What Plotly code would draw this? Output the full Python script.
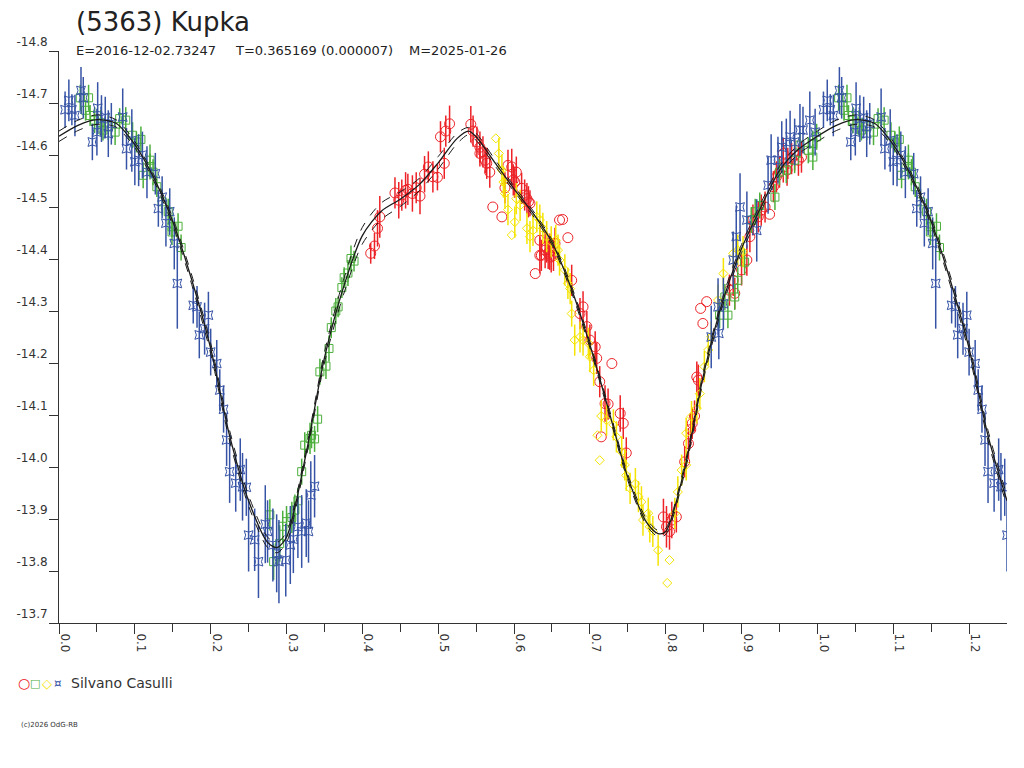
import plotly.graph_objects as go

# ---------------- data ----------------
title_text = "(5363) Kupka"
info_epoch = "E=2016-12-02.73247"
info_period = "T=0.365169 (0.000007)"
info_model = "M=2025-01-26"
observer = "Silvano Casulli"
copyright_text = "(c)2026 OdG-RB"

x_tick_vals = [0.0, 0.1, 0.2, 0.3, 0.4, 0.5, 0.6, 0.7, 0.8, 0.9, 1.0, 1.1, 1.2]
x_tick_text = ["0.0", "0.1", "0.2", "0.3", "0.4", "0.5", "0.6", "0.7", "0.8", "0.9", "1.0", "1.1", "1.2"]
x_minor_vals = [0.05, 0.15, 0.25, 0.35, 0.45, 0.55, 0.65, 0.75, 0.85, 0.95, 1.05, 1.15]
y_tick_vals = [-14.8, -14.7, -14.6, -14.5, -14.4, -14.3, -14.2, -14.1, -14.0, -13.9, -13.8, -13.7]
y_tick_text = ["-14.8", "-14.7", "-14.6", "-14.5", "-14.4", "-14.3", "-14.2", "-14.1", "-14.0", "-13.9", "-13.8", "-13.7"]

# fitted light curve (centre) and its two dashed envelopes
fit_phase = [0.000, 0.025, 0.050, 0.075, 0.100, 0.125, 0.150, 0.175, 0.200, 0.225, 0.250, 0.275, 0.2875,
             0.300, 0.325, 0.350, 0.375, 0.400, 0.425, 0.450, 0.475, 0.500, 0.525, 0.540, 0.550, 0.575,
             0.600, 0.625, 0.650, 0.675, 0.700, 0.725, 0.750, 0.775, 0.790, 0.800, 0.825, 0.850, 0.875,
             0.900, 0.925, 0.950, 0.975, 1.000, 1.025, 1.050, 1.075, 1.100, 1.125, 1.150, 1.175, 1.200,
             1.225, 1.250]
fit_mag = [-14.636, -14.657, -14.668, -14.661, -14.620, -14.556, -14.472, -14.360, -14.228, -14.060,
           -13.935, -13.855, -13.845, -13.865, -14.020, -14.210, -14.345, -14.445, -14.492, -14.515,
           -14.543, -14.585, -14.632, -14.646, -14.635, -14.585, -14.535, -14.488, -14.432, -14.345,
           -14.235, -14.108, -13.980, -13.893, -13.872, -13.876, -13.997, -14.178, -14.318, -14.420,
           -14.498, -14.570, -14.611, -14.636, -14.657, -14.668, -14.661, -14.620, -14.556, -14.472,
           -14.360, -14.228, -14.060, -13.935]
fit_upper = [-14.646, -14.667, -14.677, -14.668, -14.626, -14.562, -14.479, -14.369, -14.238, -14.070,
             -13.945, -13.865, -13.855, -13.875, -14.028, -14.220, -14.359, -14.461, -14.508, -14.529,
             -14.555, -14.597, -14.642, -14.653, -14.642, -14.591, -14.540, -14.493, -14.437, -14.351,
             -14.241, -14.114, -13.986, -13.899, -13.878, -13.882, -14.005, -14.186, -14.326, -14.428,
             -14.506, -14.578, -14.620, -14.646, -14.667, -14.677, -14.668, -14.626, -14.562, -14.479,
             -14.369, -14.238, -14.070, -13.945]
fit_lower = [-14.626, -14.647, -14.659, -14.654, -14.614, -14.550, -14.465, -14.351, -14.218, -14.050,
             -13.925, -13.845, -13.835, -13.855, -14.012, -14.200, -14.331, -14.429, -14.476, -14.501,
             -14.531, -14.573, -14.622, -14.639, -14.628, -14.579, -14.530, -14.483, -14.427, -14.339,
             -14.229, -14.102, -13.974, -13.887, -13.866, -13.870, -13.989, -14.170, -14.310, -14.412,
             -14.490, -14.562, -14.602, -14.626, -14.647, -14.659, -14.654, -14.614, -14.550, -14.465,
             -14.351, -14.218, -14.050, -13.925]

# red circles
red_phase = [0.411, 0.416, 0.420, 0.423, 0.443, 0.448, 0.452, 0.457, 0.460, 0.466, 0.471, 0.476, 0.482,
             0.487, 0.493, 0.499, 0.503, 0.508, 0.510, 0.515, 0.543, 0.546, 0.551, 0.555, 0.555, 0.559,
             0.562, 0.564, 0.568, 0.572, 0.584, 0.588, 0.592, 0.597, 0.599, 0.601, 0.603, 0.610, 0.614,
             0.617, 0.619, 0.621, 0.628, 0.634, 0.634, 0.636, 0.641, 0.643, 0.645, 0.647, 0.649, 0.652,
             0.654, 0.660, 0.664, 0.671, 0.676, 0.687, 0.691, 0.696, 0.700, 0.707, 0.709, 0.713, 0.715,
             0.720, 0.724, 0.729, 0.740, 0.744, 0.748, 0.797, 0.801, 0.805, 0.808, 0.814, 0.825, 0.830,
             0.833, 0.835, 0.838, 0.841, 0.843, 0.846, 0.849, 0.854, 0.884, 0.889, 0.891, 0.900, 0.907,
             0.911, 0.915, 0.922, 0.926, 0.931, 0.937, 0.942, 0.946, 0.950, 0.955, 0.955, 0.960, 0.961,
             0.966, 0.970, 0.975, 0.979]
red_mag = [-14.411, -14.425, -14.459, -14.481, -14.527, -14.513, -14.523, -14.532, -14.534, -14.526,
           -14.537, -14.521, -14.563, -14.577, -14.558, -14.557, -14.635, -14.584, -14.646, -14.660,
           -14.659, -14.646, -14.625, -14.615, -14.603, -14.606, -14.590, -14.584, -14.567, -14.500,
           -14.481, -14.537, -14.580, -14.577, -14.552, -14.548, -14.567, -14.536, -14.523, -14.516,
           -14.510, -14.507, -14.372, -14.407, -14.436, -14.407, -14.417, -14.423, -14.411, -14.414,
           -14.404, -14.407, -14.430, -14.475, -14.476, -14.441, -14.359, -14.295, -14.308, -14.270,
           -14.244, -14.231, -14.209, -14.164, -14.058, -14.122, -14.121, -14.199, -14.103, -14.084,
           -14.027, -13.904, -13.885, -13.876, -13.898, -13.904, -14.010, -14.045, -14.072, -14.084,
           -14.098, -14.173, -14.167, -14.305, -14.276, -14.318, -14.340, -14.359, -14.334, -14.379,
           -14.398, -14.443, -14.475, -14.481, -14.494, -14.500, -14.486, -14.539, -14.558, -14.567,
           -14.577, -14.603, -14.571, -14.584, -14.593, -14.600, -14.590, -14.596]
red_err = [0.020, 0.025, 0.035, 0.040, 0.030, 0.035, 0.030, 0.035, 0.030, 0.035, 0.030, 0.035, 0.035,
           0.030, 0.030, 0.025, 0.030, 0.030, 0.030, 0.035, 0.035, 0.030, 0.030, 0.030, 0.025, 0.030,
           0.025, 0.030, 0.030, 0.000, 0.000, 0.030, 0.030, 0.035, 0.030, 0.030, 0.030, 0.030, 0.030,
           0.030, 0.030, 0.025, 0.000, 0.035, 0.030, 0.030, 0.035, 0.030, 0.030, 0.035, 0.030, 0.030,
           0.030, 0.000, 0.000, 0.000, 0.030, 0.030, 0.030, 0.030, 0.030, 0.030, 0.030, 0.030, 0.000,
           0.035, 0.030, 0.000, 0.035, 0.030, 0.030, 0.035, 0.040, 0.035, 0.035, 0.030, 0.030, 0.030,
           0.030, 0.030, 0.030, 0.030, 0.030, 0.000, 0.000, 0.000, 0.030, 0.030, 0.030, 0.030, 0.030,
           0.030, 0.030, 0.030, 0.030, 0.030, 0.000, 0.030, 0.030, 0.030, 0.030, 0.030, 0.030, 0.030,
           0.030, 0.030, 0.030, 0.030]

# green squares
green_phase = [0.028, 0.035, 0.039, 0.041, 0.047, 0.055, 0.058, 0.065, 0.074, 0.080, 0.088, 0.097, 0.102,
               0.108, 0.111, 0.120, 0.120, 0.124, 0.129, 0.136, 0.144, 0.149, 0.149, 0.157, 0.161, 0.278,
               0.283, 0.291, 0.295, 0.300, 0.307, 0.311, 0.315, 0.320, 0.324, 0.331, 0.333, 0.337, 0.341,
               0.344, 0.352, 0.356, 0.359, 0.365, 0.368, 0.373, 0.376, 0.381, 0.385, 0.389, 0.871, 0.878,
               0.882, 0.891, 0.895, 0.904, 0.913, 0.918, 0.924, 0.944, 0.950, 0.959, 0.970, 0.977, 0.988,
               0.994, 0.994, 0.999]
green_mag = [-14.710, -14.686, -14.710, -14.676, -14.667, -14.662, -14.648, -14.654, -14.644, -14.670,
             -14.667, -14.638, -14.625, -14.630, -14.561, -14.590, -14.578, -14.567, -14.539, -14.510,
             -14.491, -14.462, -14.452, -14.463, -14.422, -13.908, -13.818, -13.853, -13.886, -13.895,
             -13.903, -13.917, -13.935, -13.991, -14.042, -14.055, -14.061, -14.054, -14.092, -14.183,
             -14.194, -14.228, -14.268, -14.300, -14.308, -14.345, -14.364, -14.373, -14.401, -14.396,
             -14.292, -14.327, -14.292, -14.327, -14.359, -14.394, -14.475, -14.491, -14.503, -14.519,
             -14.567, -14.571, -14.590, -14.619, -14.609, -14.596, -14.622, -14.635]
green_err = [0.025, 0.020, 0.025, 0.020, 0.025, 0.025, 0.020, 0.025, 0.025, 0.020, 0.025, 0.025, 0.020,
             0.025, 0.025, 0.030, 0.025, 0.025, 0.020, 0.025, 0.025, 0.020, 0.025, 0.025, 0.025, 0.030,
             0.035, 0.035, 0.030, 0.030, 0.030, 0.030, 0.025, 0.025, 0.025, 0.030, 0.025, 0.025, 0.025,
             0.025, 0.025, 0.025, 0.020, 0.025, 0.020, 0.020, 0.020, 0.025, 0.025, 0.020, 0.025, 0.025,
             0.025, 0.025, 0.025, 0.025, 0.025, 0.025, 0.025, 0.025, 0.025, 0.025, 0.025, 0.025, 0.025,
             0.025, 0.025, 0.025]

# yellow diamonds
yellow_phase = [0.576, 0.580, 0.584, 0.586, 0.588, 0.592, 0.597, 0.601, 0.603, 0.608, 0.617, 0.621, 0.625,
                0.630, 0.634, 0.638, 0.643, 0.649, 0.655, 0.658, 0.660, 0.667, 0.671, 0.674, 0.676, 0.680,
                0.687, 0.691, 0.698, 0.700, 0.705, 0.710, 0.713, 0.715, 0.722, 0.731, 0.735, 0.742, 0.746,
                0.748, 0.753, 0.760, 0.764, 0.768, 0.770, 0.777, 0.779, 0.783, 0.790, 0.802, 0.805, 0.812,
                0.816, 0.821, 0.827, 0.827, 0.834, 0.841, 0.845, 0.851, 0.856, 0.860, 0.869, 0.876, 0.889,
                0.895, 0.902]
yellow_mag = [-14.632, -14.603, -14.571, -14.548, -14.526, -14.495, -14.446, -14.471, -14.516, -14.503,
              -14.459, -14.443, -14.455, -14.481, -14.475, -14.459, -14.443, -14.433, -14.436, -14.417,
              -14.398, -14.379, -14.353, -14.343, -14.295, -14.244, -14.250, -14.244, -14.238, -14.212,
              -14.186, -14.061, -14.013, -14.098, -14.090, -14.081, -14.058, -14.029, -14.004, -13.984,
              -13.959, -13.968, -13.943, -13.933, -13.898, -13.911, -13.885, -13.876, -13.840, -13.777,
              -13.821, -13.911, -13.952, -13.994, -14.004, -14.065, -14.097, -14.113, -14.141, -14.193,
              -14.225, -14.250, -14.321, -14.372, -14.411, -14.417, -14.414]
yellow_err = [0.000, 0.030, 0.030, 0.030, 0.030, 0.030, 0.000, 0.030, 0.030, 0.030, 0.030, 0.030, 0.030,
              0.030, 0.030, 0.030, 0.030, 0.030, 0.030, 0.030, 0.030, 0.030, 0.030, 0.030, 0.025, 0.030,
              0.030, 0.030, 0.030, 0.030, 0.030, 0.000, 0.000, 0.030, 0.030, 0.030, 0.030, 0.030, 0.030,
              0.030, 0.030, 0.030, 0.030, 0.030, 0.030, 0.030, 0.030, 0.030, 0.030, 0.000, 0.000, 0.030,
              0.030, 0.030, 0.030, 0.030, 0.030, 0.030, 0.030, 0.030, 0.030, 0.030, 0.030, 0.030, 0.030,
              0.030, 0.030]

# blue star-squares
blue_phase = [0.008, 0.013, 0.017, 0.021, 0.029, 0.032, 0.044, 0.050, 0.051, 0.056, 0.061, 0.065, 0.069,
              0.084, 0.089, 0.096, 0.100, 0.105, 0.110, 0.116, 0.127, 0.131, 0.136, 0.141, 0.146, 0.152,
              0.156, 0.177, 0.182, 0.185, 0.192, 0.197, 0.200, 0.208, 0.212, 0.217, 0.221, 0.225, 0.233,
              0.239, 0.242, 0.247, 0.250, 0.258, 0.263, 0.272, 0.275, 0.282, 0.287, 0.290, 0.299, 0.305,
              0.309, 0.315, 0.320, 0.326, 0.329, 0.332, 0.337, 0.860, 0.869, 0.870, 0.876, 0.889, 0.893,
              0.898, 0.907, 0.920, 0.935, 0.939, 0.948, 0.953, 0.959, 0.964, 0.970, 0.977, 0.981, 0.990,
              0.997]
blue_mag = [-14.687, -14.705, -14.687, -14.676, -14.724, -14.710, -14.625, -14.644, -14.690, -14.670,
            -14.672, -14.641, -14.660, -14.673, -14.612, -14.628, -14.587, -14.590, -14.600, -14.567,
            -14.564, -14.497, -14.519, -14.469, -14.491, -14.430, -14.353, -14.311, -14.308, -14.254,
            -14.266, -14.292, -14.221, -14.199, -14.148, -14.111, -14.052, -13.991, -13.969, -13.995,
            -13.962, -13.961, -13.869, -13.860, -13.818, -13.890, -13.876, -13.850, -13.834, -13.818,
            -13.821, -13.850, -13.861, -13.885, -13.876, -13.892, -13.876, -13.946, -13.963, -14.250,
            -14.308, -14.257, -14.314, -14.398, -14.443, -14.500, -14.475, -14.455, -14.542, -14.590,
            -14.590, -14.615, -14.625, -14.635, -14.625, -14.648, -14.648, -14.667, -14.644]
blue_err = [0.035, 0.040, 0.030, 0.040, 0.045, 0.040, 0.035, 0.045, 0.050, 0.045, 0.040, 0.045, 0.040,
            0.055, 0.040, 0.060, 0.045, 0.050, 0.045, 0.050, 0.040, 0.035, 0.040, 0.045, 0.045, 0.050,
            0.087, 0.035, 0.040, 0.045, 0.050, 0.045, 0.045, 0.045, 0.040, 0.045, 0.050, 0.060, 0.055,
            0.060, 0.065, 0.055, 0.070, 0.060, 0.070, 0.075, 0.060, 0.070, 0.075, 0.080, 0.070, 0.075,
            0.065, 0.060, 0.070, 0.065, 0.060, 0.065, 0.060, 0.060, 0.055, 0.050, 0.050, 0.055, 0.060,
            0.065, 0.055, 0.060, 0.055, 0.050, 0.045, 0.050, 0.045, 0.050, 0.045, 0.050, 0.045, 0.055,
            0.045]

PHASE_MAX = 1.25


def folded(ph, mg, er):
    """Show phases 0..1 and repeat the start of the cycle after phase 1 (up to PHASE_MAX)."""
    xs, ys, es = list(ph), list(mg), list(er)
    for p, m, e in zip(ph, mg, er):
        if p + 1.0 <= PHASE_MAX:
            xs.append(p + 1.0)
            ys.append(m)
            es.append(e)
    return xs, ys, es


# ---------------- figure ----------------
RED = "#ec2227"
GREEN = "#4caf3c"
YELLOW = "#f4e400"
BLUE = "#3653a6"
INK = "#333333"
FONT = "DejaVu Sans"

fig = go.Figure()

series = [
    (red_phase, red_mag, red_err, RED, "circle-open", 10),
    (green_phase, green_mag, green_err, GREEN, "square-open", 8),
    (yellow_phase, yellow_mag, yellow_err, YELLOW, "diamond-open", 7),
    (blue_phase, blue_mag, blue_err, BLUE, "star-square-open", 8),
]
for ph, mg, er, col, sym, sz in series:
    xs, ys, es = folded(ph, mg, er)
    fig.add_trace(go.Scatter(
        x=xs, y=ys, mode="markers",
        marker=dict(symbol=sym, size=sz, color=col, line=dict(color=col, width=1)),
        error_y=dict(type="data", array=es, visible=True, color=col, thickness=1.5, width=0),
        showlegend=False, hoverinfo="skip",
    ))

for yy, dash, w in [(fit_upper, "dash", 1), (fit_lower, "dash", 1), (fit_mag, "solid", 1.3)]:
    fig.add_trace(go.Scatter(
        x=fit_phase, y=yy, mode="lines",
        line=dict(color="#1a1a1a", width=w, dash=dash, shape="spline", smoothing=0.8),
        showlegend=False, hoverinfo="skip",
    ))

W, H = 1024, 768
ML, MR, MT, MB = 59, 17, 51, 145
PW, PH = W - ML - MR, H - MT - MB


def px(xp):
    return (xp - ML) / PW


def py(yp):
    return (H - MB - yp) / PH


annotations = [
    dict(text=title_text, x=px(74), y=py(22), xanchor="left", yanchor="middle",
         font=dict(family=FONT, size=26, color="#222222")),
    dict(text=info_epoch, x=px(74), y=py(50), xanchor="left", yanchor="middle",
         font=dict(family=FONT, size=13, color="#222222")),
    dict(text=info_period, x=px(233), y=py(50), xanchor="left", yanchor="middle",
         font=dict(family=FONT, size=13, color="#222222")),
    dict(text=info_model, x=px(407), y=py(50), xanchor="left", yanchor="middle",
         font=dict(family=FONT, size=13, color="#222222")),
    dict(text="<span style='color:%s'>○</span>" % RED, x=px(24), y=py(683), xanchor="center",
         yanchor="middle", font=dict(family=FONT, size=14, color=RED)),
    dict(text="<span style='color:%s'>□</span>" % GREEN, x=px(35), y=py(683), xanchor="center",
         yanchor="middle", font=dict(family=FONT, size=11, color=GREEN)),
    dict(text="<span style='color:%s'>◇</span>" % YELLOW, x=px(47), y=py(683), xanchor="center",
         yanchor="middle", font=dict(family=FONT, size=13, color=YELLOW)),
    dict(text="<span style='color:%s'>¤</span>" % BLUE, x=px(58), y=py(683), xanchor="center",
         yanchor="middle", font=dict(family=FONT, size=12, color=BLUE)),
    dict(text=observer, x=px(69), y=py(683), xanchor="left", yanchor="middle",
         font=dict(family=FONT, size=14, color=INK)),
    dict(text=copyright_text, x=px(19), y=py(725), xanchor="left", yanchor="middle",
         font=dict(family=FONT, size=7, color=INK)),
]
for a in annotations:
    a.update(xref="paper", yref="paper", showarrow=False)

fig.update_layout(
    width=W, height=H,
    margin=dict(l=ML, r=MR, t=MT, b=MB, pad=0),
    paper_bgcolor="white", plot_bgcolor="white",
    font=dict(family=FONT, size=12, color=INK),
    annotations=annotations,
    xaxis=dict(
        range=[0, PHASE_MAX], showgrid=False, zeroline=False,
        showline=True, linecolor=INK, linewidth=1,
        tickmode="array", tickvals=x_tick_vals, ticktext=x_tick_text,
        ticks="outside", ticklen=10, tickcolor=INK, tickwidth=1, tickangle=90,
        ticklabelshift=6, ticklabelstandoff=-3,
        tickfont=dict(family=FONT, size=12, color=INK),
        minor=dict(tickmode="array", tickvals=x_minor_vals, ticks="outside", ticklen=8,
                   tickcolor=INK, tickwidth=1, showgrid=False),
    ),
    yaxis=dict(
        range=[-13.7, -14.8], showgrid=False, zeroline=False,
        showline=True, linecolor=INK, linewidth=1,
        tickmode="array", tickvals=y_tick_vals, ticktext=y_tick_text,
        ticks="outside", ticklen=9, tickcolor=INK, tickwidth=1,
        ticklabelposition="outside top", ticklabelstandoff=8,
        tickfont=dict(family=FONT, size=12, color=INK),
    ),
)

fig.write_html("out.html", config={"displayModeBar": False},
               post_script="document.body.style.margin='0px';")
